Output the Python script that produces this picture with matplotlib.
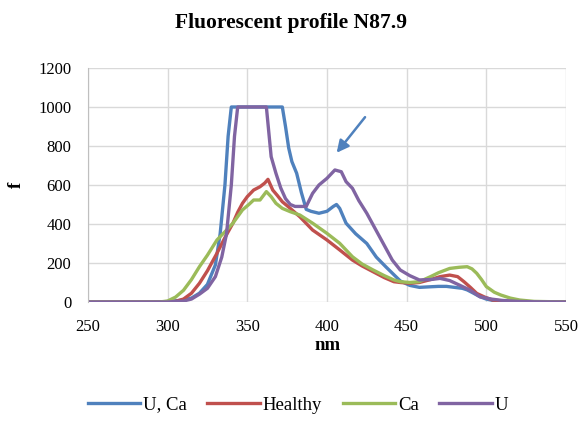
import matplotlib
matplotlib.use("Agg")
import matplotlib.pyplot as plt

# ---- data ----
uca_x = [250,290,300,310,315,320,325,330,333,336,338,340,342,372,374,376,378,381,384,387,390,395,400,404,406,408,412,418,425,431,437,446,452,458,465,470,475,480,485,488,492,496,500,505,512,520,530,550]
uca_y = [0,0,2,10,20,45,90,190,350,600,850,1000,1000,1000,900,790,720,660,560,475,465,455,465,490,500,480,404,350,300,230,180,108,85,75,78,80,80,75,70,62,45,27,15,6,3,1,0,0]

healthy_x = [250,300,305,310,315,320,325,331,336,341,344,347,350,354,358,361,363,366,369,372,377,383,391,400,408,416,422,429,436,442,446,452,458,465,471,477,482,486,490,494,499,504,512,520,530,550]
healthy_y = [0,0,3,15,45,96,160,250,330,404,460,506,540,574,591,610,629,574,545,514,480,437,369,318,267,215,185,155,125,104,100,96,100,115,130,138,130,104,75,44,25,10,4,2,1,0]

ca_x = [250,295,300,305,310,315,320,325,331,336,341,347,351,354,358,362,365,368,372,377,383,391,400,408,416,422,429,436,442,446,452,458,465,470,477,483,488,491,494,497,500,505,509,515,521,530,550]
ca_y = [0,0,5,25,60,115,181,240,318,360,404,472,500,523,523,566,540,506,480,463,446,404,352,301,232,195,164,135,113,104,100,104,130,150,172,178,181,170,147,115,79,50,36,20,10,3,0]

u_x = [250,300,310,315,320,325,330,334,337,340,342,344,362,365,368,371,374,377,380,383,387,391,395,400,405,409,412,416,420,425,433,441,446,452,458,465,471,477,483,490,496,503,510,520,530,550]
u_y = [0,0,5,15,40,70,130,230,350,600,850,1000,1000,745,660,585,530,500,490,490,490,557,600,634,677,668,617,583,520,455,335,215,164,135,113,115,121,110,87,60,27,15,8,3,1,0]

series_labels = ["U, Ca", "Healthy", "Ca", "U"]
colors = ["#4F81BD", "#C0504D", "#9BBB59", "#8064A2"]
x_ticks = [250, 300, 350, 400, 450, 500, 550]
y_ticks = [0, 200, 400, 600, 800, 1000, 1200]

plt.rcParams['font.family'] = ['Liberation Serif', 'DejaVu Serif']

fig = plt.figure(figsize=(5.82, 4.21), dpi=100)
ax = fig.add_axes([0.151, 0.2827, 0.8215, 0.5558])

for (xs, ys), lab, c in zip([(uca_x, uca_y), (healthy_x, healthy_y), (ca_x, ca_y), (u_x, u_y)], series_labels, colors):
    ax.plot(xs, ys, color=c, lw=2.4, label=lab, solid_joinstyle='round')

ax.set_xlim(250, 550)
ax.set_ylim(0, 1200)
ax.set_xticks(x_ticks)
ax.set_yticks(y_ticks)
ax.grid(True, color="#D9D9D9", lw=1)
ax.set_axisbelow(True)
for s in ["top", "right", "bottom"]:
    ax.spines[s].set_visible(False)
ax.spines["left"].set_color("#BFBFBF")
ax.tick_params(length=0, labelsize=12)
ax.tick_params(axis="y", pad=12)
ax.tick_params(axis="x", pad=12)

fig.text(0.5, 0.945, "Fluorescent profile N87.9", fontsize=15.5, fontweight="bold",
         ha="center", va="center")
fig.text(0.562, 0.18, "nm", fontsize=13.5, fontweight="bold", ha="center", va="center")
fig.text(0.029, 0.56, "f", fontsize=13.5, fontweight="bold", ha="center", va="center",
         rotation=90)

ax.annotate("", xy=(405, 754), xytext=(425, 959),
            arrowprops=dict(arrowstyle="-|>", color="#4F81BD", lw=1.8, mutation_scale=18))

fig.legend(loc="center", bbox_to_anchor=(0.512, 0.038), ncol=4, frameon=False,
           fontsize=13.5, handlelength=2.8, columnspacing=1.1, handletextpad=0.15)

fig.savefig("out.png", dpi=100)
